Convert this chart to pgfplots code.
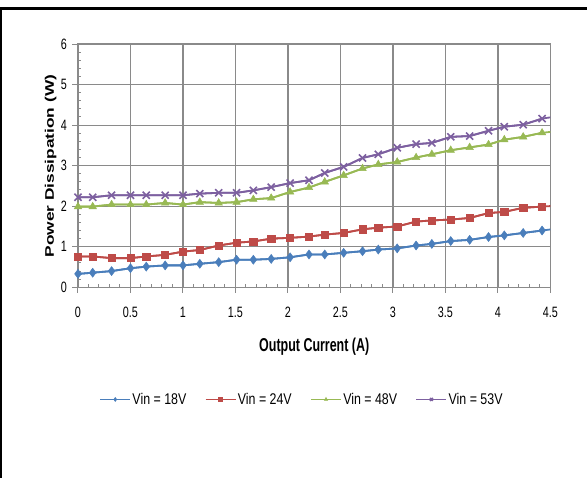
\documentclass[border=0pt]{standalone}
\usepackage{fontspec}
\setmainfont{Liberation Sans}
\newfontfamily\tickfont{Liberation Sans}[FakeStretch=0.72]
\newfontfamily\legfont{Liberation Sans}[FakeStretch=0.8]
\newfontfamily\titlefont{Liberation Sans}[FakeStretch=0.67]
\usepackage{graphicx}
\usepackage{pgfplots}
\usepackage{pgfplotstable}
\pgfplotsset{compat=1.18}

\definecolor{c1}{HTML}{4A7EBB}
\definecolor{c2}{HTML}{BE4B48}
\definecolor{c3}{HTML}{98B954}
\definecolor{c4}{HTML}{7D60A0}
\definecolor{gridc}{HTML}{8A8A8A}

\pgfplotstableread{
x y
0    0.33
0.14 0.36
0.32 0.40
0.50 0.47
0.65 0.51
0.83 0.54
1.00 0.54
1.16 0.58
1.34 0.62
1.51 0.68
1.67 0.68
1.84 0.70
2.02 0.74
2.20 0.81
2.35 0.81
2.53 0.85
2.71 0.89
2.86 0.93
3.04 0.96
3.22 1.03
3.37 1.07
3.55 1.14
3.73 1.17
3.91 1.24
4.06 1.28
4.24 1.34
4.42 1.40
4.60 1.46
}\vina

\pgfplotstableread{
x y
0    0.76
0.14 0.76
0.32 0.72
0.50 0.72
0.65 0.76
0.83 0.80
1.00 0.88
1.16 0.92
1.34 1.03
1.51 1.10
1.67 1.13
1.84 1.20
2.02 1.22
2.20 1.25
2.35 1.30
2.53 1.34
2.71 1.43
2.86 1.47
3.04 1.50
3.22 1.62
3.37 1.65
3.55 1.67
3.73 1.71
3.91 1.83
4.06 1.86
4.24 1.96
4.42 1.99
4.60 2.02
}\vinb

\pgfplotstableread{
x y
0    1.99
0.14 1.99
0.32 2.04
0.50 2.04
0.65 2.04
0.83 2.08
1.00 2.04
1.16 2.10
1.34 2.08
1.51 2.10
1.67 2.17
1.84 2.20
2.02 2.35
2.20 2.46
2.35 2.60
2.53 2.76
2.71 2.93
2.86 3.03
3.04 3.09
3.22 3.20
3.37 3.28
3.55 3.38
3.73 3.45
3.91 3.52
4.06 3.64
4.24 3.71
4.42 3.81
4.60 3.86
}\vinc

\pgfplotstableread{
x y
0    2.22
0.14 2.22
0.32 2.27
0.50 2.27
0.65 2.27
0.83 2.27
1.00 2.27
1.16 2.31
1.34 2.33
1.51 2.33
1.67 2.39
1.84 2.47
2.02 2.57
2.20 2.64
2.35 2.82
2.53 2.97
2.71 3.19
2.86 3.28
3.04 3.44
3.22 3.53
3.37 3.56
3.55 3.71
3.73 3.73
3.91 3.86
4.06 3.96
4.24 4.01
4.42 4.16
4.60 4.23
}\vind

\begin{document}
\begin{tikzpicture}
\path[use as bounding box] (-78pt,-190.7pt) rectangle (509pt,287.3pt);
\draw[line width=2.5pt] (-77pt,-195pt) -- (-77pt,279pt) -- (515pt,279pt);
\begin{axis}[
  at={(0pt,0pt)}, anchor=south west,
  scale only axis, width=472.5pt, height=243.3pt,
  xmin=0, xmax=4.5, ymin=0, ymax=6,
  xtick={0,0.5,...,4.5}, ytick={0,1,...,6},
  minor x tick num=4, minor y tick num=4,
  grid=major, major grid style={gridc, line width=1.1pt},
  axis line style={gridc, line width=1.3pt},
  tick pos=left, tick align=outside,
  major tick length=5.5pt, minor tick length=3.5pt,
  tick style={gridc, line width=1pt},
  minor x tick style={yshift=3.5pt},
  minor y tick style={xshift=3.5pt},
  clip mode=individual,
  /pgf/number format/assume math mode=true,
  xticklabel style={font=\tickfont\fontsize{15}{15}\selectfont, yshift=-11pt},
  yticklabel style={font=\tickfont\fontsize{15}{15}\selectfont, xshift=-2pt},
  xlabel={Output Current (A)},
  xlabel style={font=\titlefont\bfseries\fontsize{18.6}{20}\selectfont, at={(axis description cs:0.5,-0.265)}, anchor=base},
  ylabel={\scalebox{1}[0.72]{Power Dissipation (W)}},
  ylabel style={font=\bfseries\fontsize{17.3}{19}\selectfont, at={(axis description cs:-0.058,0.498)}, anchor=center},
  legend columns=4,
  legend style={draw=none, fill=none, font=\legfont\fontsize{15.5}{16}\selectfont,
    at={(axis description cs:0.4736,-0.461)}, anchor=center,
    nodes={inner xsep=1.5pt},
    /tikz/every even column/.append style={column sep=17pt}},
  legend image code/.code={\draw[mark repeat=2,mark phase=2,#1,mark size=2pt,line width=1.5pt] plot coordinates {(0pt,0pt) (15pt,0pt) (30pt,0pt)};},
]
\addplot[c1, line width=1.8pt, forget plot] table[x=x,y=y] {\vina};
\addplot[c2, line width=1.8pt, forget plot] table[x=x,y=y] {\vinb};
\addplot[c3, line width=1.8pt, forget plot] table[x=x,y=y] {\vinc};
\addplot[c4, line width=1.8pt, forget plot] table[x=x,y=y] {\vind};

\addplot[c1, line width=1.8pt, mark=diamond*, mark size=4.5pt, mark options={solid, fill=c1, line width=0.5pt}, restrict x to domain=-1:4.5] table[x=x,y=y] {\vina};
\addlegendentry{Vin = 18V}
\addplot[c2, line width=1.8pt, mark=square*, mark size=3.6pt, mark options={solid, fill=c2, line width=0.5pt}, restrict x to domain=-1:4.5] table[x=x,y=y] {\vinb};
\addlegendentry{Vin = 24V}
\addplot[c3, line width=1.8pt, mark=triangle*, mark size=4.3pt, mark options={solid, fill=c3, line width=0.5pt}, restrict x to domain=-1:4.5] table[x=x,y=y] {\vinc};
\addlegendentry{Vin = 48V}
\addplot[c4, line width=1.8pt, mark=x, mark size=5pt, mark options={solid, line width=1.6pt}, restrict x to domain=-1:4.5] table[x=x,y=y] {\vind};
\addlegendentry{Vin = 53V}
\end{axis}
\end{tikzpicture}
\end{document}
